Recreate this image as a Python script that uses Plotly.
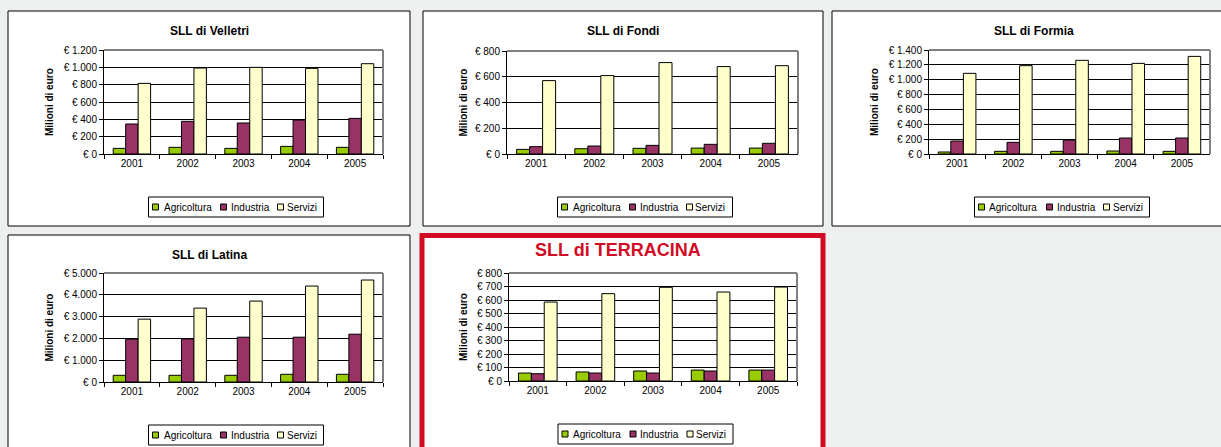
import plotly.graph_objects as go

# ---------------- data ----------------
years = ["2001", "2002", "2003", "2004", "2005"]
series_names = ["Agricoltura", "Industria", "Servizi"]
series_colors = ["#99cc00", "#993366", "#ffffcc"]

velletri_agri = [65, 77, 65, 88, 77]
velletri_ind = [346, 377, 358, 392, 411]
velletri_serv = [815, 992, 1000, 988, 1042]

fondi_agri = [36, 41, 44, 46, 46]
fondi_ind = [57, 62, 67, 75, 83]
fondi_serv = [570, 609, 710, 679, 686]

formia_agri = [27, 36, 36, 40, 36]
formia_ind = [175, 157, 188, 215, 215]
formia_serv = [1086, 1189, 1261, 1220, 1314]

latina_agri = [307, 307, 307, 353, 353]
latina_ind = [1963, 1978, 2055, 2055, 2193]
latina_serv = [2883, 3389, 3712, 4402, 4678]

terracina_agri = [59, 67, 74, 81, 81]
terracina_ind = [54, 59, 59, 74, 81]
terracina_serv = [585, 647, 694, 659, 696]

velletri_ticks = [0, 200, 400, 600, 800, 1000, 1200]
fondi_ticks = [0, 200, 400, 600, 800]
formia_ticks = [0, 200, 400, 600, 800, 1000, 1200, 1400]
latina_ticks = [0, 1000, 2000, 3000, 4000, 5000]
terracina_ticks = [0, 100, 200, 300, 400, 500, 600, 700, 800]

titles = ["SLL di Velletri", "SLL di Fondi", "SLL di Formia", "SLL di Latina", "SLL di TERRACINA"]
y_title = "Milioni di euro"

# ---------------- layout geometry (pixels) ----------------
W, H = 1221, 447
FONT = "Liberation Sans, Arial, sans-serif"


def fx(x):
    return x / W


def fy(y):
    return 1 - y / H


def euro(v):
    return "€ " + f"{v:,}".replace(",", ".")


charts = [
    dict(data=[velletri_agri, velletri_ind, velletri_serv], ticks=velletri_ticks,
         plot=(104, 383, 50, 154), title=(209, 31), ytoff=55),
    dict(data=[fondi_agri, fondi_ind, fondi_serv], ticks=fondi_ticks,
         plot=(507, 798, 51, 154), title=(623, 31), ytoff=44),
    dict(data=[formia_agri, formia_ind, formia_serv], ticks=formia_ticks,
         plot=(929, 1210, 50, 154), title=(1034, 31), ytoff=55),
    dict(data=[latina_agri, latina_ind, latina_serv], ticks=latina_ticks,
         plot=(104, 383, 273, 382), title=(209, 255), ytoff=55),
    dict(data=[terracina_agri, terracina_ind, terracina_serv], ticks=terracina_ticks,
         plot=(509, 797, 273, 381), title=(617.5, 250), ytoff=46),
]

panels = [
    (8, 410, 11, 226),
    (423, 823, 11, 226),
    (832, 1240, 11, 226),
    (8, 410, 235, 460),
]
red_panel = (422, 823, 235.5, 470)

fig = go.Figure()
shapes = []
annotations = []
layout_axes = {}

for x0, x1, y0, y1 in panels:
    shapes.append(dict(type="rect", xref="paper", yref="paper", layer="below",
                       x0=fx(x0), x1=fx(x1), y0=fy(y1), y1=fy(y0),
                       fillcolor="white", line=dict(color="black", width=1)))
x0, x1, y0, y1 = red_panel
shapes.append(dict(type="rect", xref="paper", yref="paper", layer="below",
                   x0=fx(x0), x1=fx(x1), y0=fy(y1), y1=fy(y0),
                   fillcolor="white", line=dict(color="#d20a23", width=5)))

for i, ch in enumerate(charts, start=1):
    sx = "" if i == 1 else str(i)
    xa, ya = "x" + sx, "y" + sx
    px0, px1, py0, py1 = ch["plot"]
    for name, color, vals in zip(series_names, series_colors, ch["data"]):
        fig.add_trace(go.Bar(
            x=years, y=vals, name=name, xaxis=xa, yaxis=ya, showlegend=False,
            marker=dict(color=color, line=dict(color="black", width=1)),
        ))
    ticks = ch["ticks"]
    layout_axes["xaxis" + sx] = dict(
        domain=[fx(px0), fx(px1)], anchor=ya, type="category", automargin=False,
        showgrid=False, showline=True, linecolor="black", linewidth=1,
        ticks="outside", tickson="boundaries", ticklen=4, tickcolor="black",
        tickfont=dict(size=10, color="black", family=FONT), fixedrange=True,
    )
    layout_axes["yaxis" + sx] = dict(
        domain=[fy(py1), fy(py0)], anchor=xa, range=[0, ticks[-1]], automargin=False,
        tickvals=ticks, ticktext=[euro(v) for v in ticks],
        showgrid=True, gridcolor="black", gridwidth=1, zeroline=False,
        showline=True, linecolor="black", linewidth=1,
        ticks="outside", ticklen=4, tickcolor="black",
        tickfont=dict(size=10, color="black", family=FONT), fixedrange=True,
    )
    # gray top/right plot-area border
    shapes.append(dict(type="line", xref=xa + " domain", yref=ya + " domain",
                       x0=0, x1=1, y0=1, y1=1, line=dict(color="#808080", width=2)))
    shapes.append(dict(type="line", xref=xa + " domain", yref=ya + " domain",
                       x0=1, x1=1, y0=0, y1=1, line=dict(color="#808080", width=2)))
    # chart title
    tx, ty = ch["title"]
    if i == 5:
        tfont = dict(size=18, color="#d20a23", family=FONT)
    else:
        tfont = dict(size=12, color="black", family=FONT)
    annotations.append(dict(text="<b>" + titles[i - 1] + "</b>", xref="paper", yref="paper",
                            x=fx(tx), y=fy(ty), xanchor="center", yanchor="middle",
                            showarrow=False, font=tfont))
    # y-axis title
    annotations.append(dict(text="<b>" + y_title + "</b>", xref="paper", yref="paper",
                            x=fx(px0 - ch["ytoff"]), y=fy((py0 + py1) / 2),
                            xanchor="center", yanchor="middle", textangle=-90,
                            showarrow=False, font=dict(size=10, color="black", family=FONT)))
    # legend box
    lx = (px0 + px1) / 2 - 95
    ly = py1 + 43
    shapes.append(dict(type="rect", xref="paper", yref="paper",
                       x0=fx(lx), x1=fx(lx + 175), y0=fy(ly + 20), y1=fy(ly),
                       fillcolor="white", line=dict(color="black", width=1)))
    for (sw, tx_off), name, color in zip([(4, 13), (72, 80), (129, 136)], series_names, series_colors):
        cy = ly + 10
        shapes.append(dict(type="rect", xref="paper", yref="paper",
                           x0=fx(lx + sw), x1=fx(lx + sw + 6), y0=fy(cy + 3), y1=fy(cy - 3),
                           fillcolor=color, line=dict(color="black", width=1)))
        annotations.append(dict(text=name, xref="paper", yref="paper",
                                x=fx(lx + tx_off), y=fy(cy), xanchor="left", yanchor="middle",
                                showarrow=False, font=dict(size=10, color="black", family=FONT)))

fig.update_layout(
    width=W, height=H, margin=dict(l=0, r=0, t=0, b=0, pad=0, autoexpand=False),
    paper_bgcolor="#eef0ef", plot_bgcolor="#c0c0c0",
    barmode="group", bargap=0.33, bargroupgap=0,
    showlegend=False, shapes=shapes, annotations=annotations,
    font=dict(family=FONT, size=10, color="black"),
    **layout_axes,
)

fig.write_html(
    "out.html",
    config={"displayModeBar": False},
    post_script="document.documentElement.style.margin='0';document.body.style.margin='0';"
                "document.body.style.overflow='hidden';",
)
